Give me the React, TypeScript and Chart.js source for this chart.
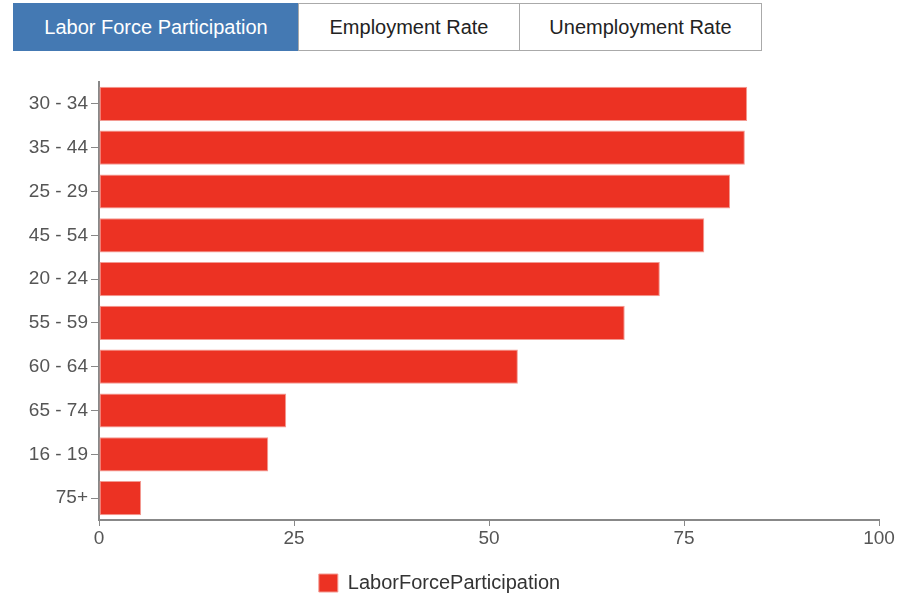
import React, { useEffect, useRef } from "react";
import { Chart, registerables } from "chart.js";

Chart.register(...registerables);

const categories = ["30 - 34", "35 - 44", "25 - 29", "45 - 54", "20 - 24", "55 - 59", "60 - 64", "65 - 74", "16 - 19", "75+"];
const laborForceParticipation = [83.1, 82.8, 80.9, 77.6, 71.9, 67.4, 53.7, 24.0, 21.7, 5.4];
const xTicks = [0, 25, 50, 75, 100];
const tabs = ["Labor Force Participation", "Employment Rate", "Unemployment Rate"];
const seriesLabel = "LaborForceParticipation";

const FONT = "'Liberation Sans', Arial, Helvetica, sans-serif";

export default function App() {
  const ref = useRef<HTMLCanvasElement | null>(null);

  useEffect(() => {
    document.body.style.margin = "0";
    const ctx = ref.current!;
    const chart = new Chart(ctx, {
      type: "bar",
      data: {
        labels: categories,
        datasets: [
          {
            label: seriesLabel,
            data: laborForceParticipation,
            backgroundColor: "#ec3223",
            borderColor: "#f39a92",
            borderWidth: 1,
            borderSkipped: false,
            barPercentage: 0.78,
            categoryPercentage: 1,
          },
        ],
      },
      options: {
        indexAxis: "y",
        animation: false,
        responsive: false,
        maintainAspectRatio: false,
        layout: { padding: { top: 82, right: 29, left: 0, bottom: -10 } },
        scales: {
          x: {
            min: 0,
            max: 100,
            afterBuildTicks: (s: any) => {
              s.ticks = xTicks.map((v) => ({ value: v }));
            },
            afterFit: (s: any) => {
              s.height = 51;
            },
            grid: { drawOnChartArea: false, drawTicks: true, tickLength: 6, color: "#888" },
            border: { display: true, color: "#888", width: 2 },
            ticks: { color: "#555", font: { family: FONT, size: 19 }, padding: 1 },
          },
          y: {
            afterFit: (s: any) => {
              s.width = 99;
            },
            grid: { drawOnChartArea: false, drawTicks: true, tickLength: 8, color: "#888", offset: false },
            border: { display: true, color: "#888", width: 2 },
            ticks: { color: "#555", font: { family: FONT, size: 19 }, padding: 3 },
          },
        },
        plugins: {
          tooltip: { enabled: false },
          legend: {
            position: "bottom",
            labels: {
              color: "#333",
              font: { family: FONT, size: 20 },
              boxWidth: 19,
              boxHeight: 18,
              padding: 2,
            },
          },
        },
      },
    });
    return () => chart.destroy();
  }, []);

  const tabBase: React.CSSProperties = {
    position: "absolute",
    top: 3,
    height: 48,
    boxSizing: "border-box",
    border: "1px solid #aaa",
    display: "flex",
    alignItems: "center",
    justifyContent: "center",
    fontFamily: FONT,
    fontSize: 20,
  };
  const tabDefs = [
    { left: 13, width: 286 },
    { left: 298, width: 222 },
    { left: 519, width: 243 },
  ];

  return (
    <div style={{ position: "relative", width: 908, height: 593, background: "#fff" }}>
      <canvas ref={ref} width={908} height={593} style={{ position: "absolute", left: 0, top: 0 }} />
      {tabs.map((t, i) => (
        <div
          key={t}
          style={{
            ...tabBase,
            left: tabDefs[i].left,
            width: tabDefs[i].width,
            background: i === 0 ? "#4479b3" : "#fff",
            color: i === 0 ? "#fff" : "#222",
            borderColor: i === 0 ? "#4479b3" : "#aaa",
          }}
        >
          {t}
        </div>
      ))}
    </div>
  );
}
